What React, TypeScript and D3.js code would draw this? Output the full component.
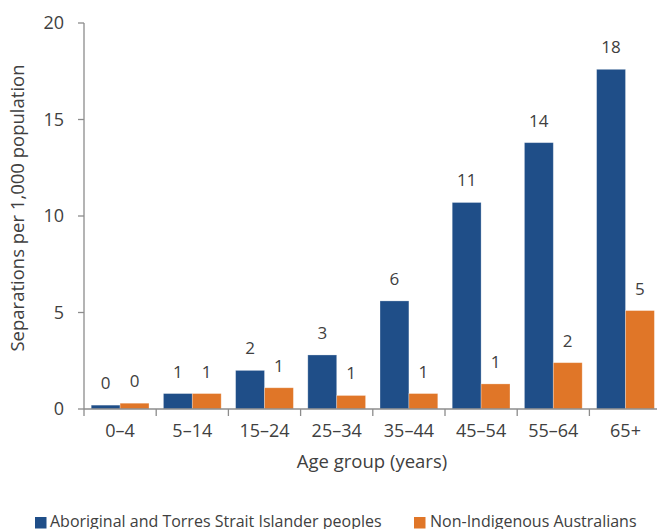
import React from "react";
import * as d3 from "d3";

const categories = ["0–4", "5–14", "15–24", "25–34", "35–44", "45–54", "55–64", "65+"];
const seriesNames = ["Aboriginal and Torres Strait Islander peoples", "Non-Indigenous Australians"];
const indigenous = [0.2, 0.8, 2.0, 2.8, 5.6, 10.7, 13.8, 17.6];
const nonIndigenous = [0.3, 0.8, 1.1, 0.7, 0.8, 1.3, 2.4, 5.1];
const yTicks = [0, 5, 10, 15, 20];
const colors = ["#1f4e88", "#e07628"];

const W = 657;
const H = 529;
const FONT = "'Open Sans', 'Noto Sans', sans-serif";
const TEXT = "#404040";
const AXIS = "#8c8c8c";

export default function App() {
  const x0 = d3.scaleBand<string>().domain(categories).range([84, 661.6]).paddingInner(0.2).paddingOuter(0.1);
  const x1 = d3.scaleBand<number>().domain([0, 1]).range([0, x0.bandwidth()]);
  const y = d3.scaleLinear().domain([0, 20]).range([409, 23]);
  const series = [indigenous, nonIndigenous];
  const step = x0.step();
  const boundaries = d3.range(categories.length + 1).map((i) => 84 + i * step);

  return (
    <svg width={W} height={H} style={{ position: "absolute", left: 0, top: 0, background: "#fff" }} fontFamily={FONT}>
      {/* y axis */}
      <line x1={84} x2={84} y1={y(20)} y2={y(0)} stroke={AXIS} strokeWidth={1.3} />
      {yTicks.map((t) => (
        <g key={t}>
          <line x1={78} x2={84} y1={y(t)} y2={y(t)} stroke={AXIS} strokeWidth={1.3} />
          <text x={64} y={y(t)} dy="0.35em" textAnchor="end" fontSize={18} fill={TEXT}>
            {t}
          </text>
        </g>
      ))}
      {/* bars */}
      {categories.map((c, i) => (
        <g key={c} transform={`translate(${x0(c)},0)`}>
          {series.map((s, k) => (
            <g key={k}>
              <rect
                x={x1(k)}
                y={y(s[i])}
                width={x1.bandwidth()}
                height={y(0) - y(s[i])}
                fill={colors[k]}
                stroke="#ffffff"
                strokeOpacity={0.35}
                strokeWidth={0.8}
              />
              <text
                x={(x1(k) as number) + x1.bandwidth() / 2}
                y={y(s[i]) - 16}
                textAnchor="middle"
                fontSize={17}
                fill={TEXT}
              >
                {Math.round(s[i])}
              </text>
            </g>
          ))}
        </g>
      ))}
      {/* x axis */}
      <line x1={84} x2={661.6} y1={y(0)} y2={y(0)} stroke={AXIS} strokeWidth={1.3} />
      {boundaries.map((b, i) => (
        <line key={i} x1={b} x2={b} y1={y(0)} y2={y(0) + 7} stroke={AXIS} strokeWidth={1.3} />
      ))}
      {categories.map((c) => (
        <text key={c} x={(x0(c) as number) + x0.bandwidth() / 2} y={436.5} textAnchor="middle" fontSize={18} fill={TEXT}>
          {c}
        </text>
      ))}
      <text x={372} y={468} textAnchor="middle" fontSize={18.5} fill={TEXT}>
        Age group (years)
      </text>
      <text transform="translate(24,208) rotate(-90)" textAnchor="middle" fontSize={18.5} fill={TEXT}>
        Separations per 1,000 population
      </text>
      {/* legend */}
      <rect x={35} y={517} width={11.5} height={11.5} fill={colors[0]} />
      <text x={50} y={527} fontSize={16} fill={TEXT}>
        {seriesNames[0]}
      </text>
      <rect x={414} y={517} width={11.5} height={11.5} fill={colors[1]} />
      <text x={430} y={527} fontSize={16} fill={TEXT}>
        {seriesNames[1]}
      </text>
    </svg>
  );
}
